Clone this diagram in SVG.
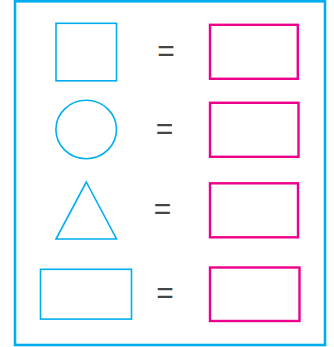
<svg xmlns="http://www.w3.org/2000/svg" width="334" height="347" viewBox="0 0 334 347">
<style>
.frame{fill:none;stroke:#00AEEF;stroke-width:2.6}
.shape{fill:none;stroke:#00AEEF;stroke-width:1.6}
.ans{fill:none;stroke:#EC008C;stroke-width:2.4}
.eq{font-family:"Liberation Sans",Arial,sans-serif;font-size:30px;fill:#444;text-anchor:middle}
</style>
<rect width="334" height="347" fill="#fff"/>
<rect id="frame" class="frame" x="15" y="1.3" width="310" height="343.7"/>
<g id="row1">
<rect id="square" class="shape" x="56" y="23.3" width="60.5" height="57.5"/>
<text id="eq1" class="eq" x="166" y="61">=</text>
<rect id="ans1" class="ans" x="210" y="24.8" width="87.8" height="54"/>
</g>
<g id="row2">
<ellipse id="circle" class="shape" cx="86.2" cy="129.5" rx="30.3" ry="29.2"/>
<text id="eq2" class="eq" x="164.5" y="139">=</text>
<rect id="ans2" class="ans" x="210" y="102.8" width="88.5" height="54"/>
</g>
<g id="row3">
<polygon id="triangle" class="shape" points="86.3,182 116.5,239 56,239"/>
<text id="eq3" class="eq" x="162.5" y="219">=</text>
<rect id="ans3" class="ans" x="210" y="183.3" width="88" height="54"/>
</g>
<g id="row4">
<rect id="rect" class="shape" x="40.5" y="269.3" width="91" height="49.8"/>
<text id="eq4" class="eq" x="165" y="303">=</text>
<rect id="ans4" class="ans" x="210" y="267.5" width="89.5" height="53.5"/>
</g>
<g id="connectors"/>
</svg>
